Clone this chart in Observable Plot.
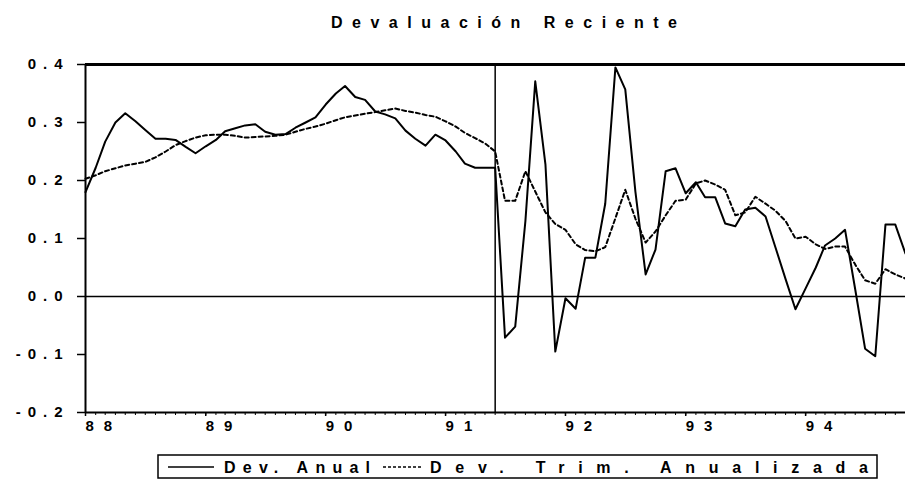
<!DOCTYPE html>
<html><head><meta charset="utf-8">
<script src="https://cdn.jsdelivr.net/npm/d3@7"></script>
<script src="https://cdn.jsdelivr.net/npm/@observablehq/plot@0.6"></script>
<style>
body{margin:0;background:#fff;font-family:"Liberation Sans",Arial,sans-serif;}
svg{display:block;}
g[aria-label="y-axis tick label"]{font-size:15px;font-weight:bold;}
g[aria-label="y-axis tick label"] text{letter-spacing:7px;}
g[aria-label="x-axis tick label"]{font-size:15px;font-weight:bold;}
g[aria-label="x-axis tick label"] text{letter-spacing:10px;}
</style>
</head><body>
<svg id="title" width="905" height="40"></svg>
<div id="chart"></div>
<svg id="legend" width="905" height="44"></svg>
<script>
// ---- data (monthly, Jan 1988 .. Nov 1994) ----
const startYear = 1988, startMonth = 0;
const devAnual = [
 0.180,0.222,0.267,0.300,0.316,0.302,0.287,0.272,0.272,0.270,0.258,0.247,
 0.259,0.270,0.285,0.290,0.295,0.297,0.284,0.279,0.280,0.291,0.300,0.309,
 0.331,0.350,0.363,0.344,0.339,0.319,0.314,0.307,0.286,0.272,0.260,0.279,
 0.269,0.250,0.229,0.222,0.222,0.222,-0.071,-0.052,0.130,0.371,0.228,-0.095,
 -0.003,-0.021,0.067,0.067,0.160,0.395,0.357,0.180,0.038,0.081,0.216,0.221,
 0.178,0.197,0.171,0.171,0.126,0.121,0.150,0.153,0.138,0.085,0.030,-0.022,
 0.014,0.050,0.088,0.100,0.115,0.012,-0.090,-0.103,0.124,0.124,0.074
];
const devTrim = [
 0.203,0.209,0.216,0.221,0.226,0.229,0.232,0.240,0.250,0.261,0.268,0.274,
 0.278,0.279,0.279,0.277,0.274,0.275,0.276,0.277,0.279,0.284,0.289,0.293,
 0.298,0.304,0.309,0.312,0.315,0.318,0.321,0.324,0.320,0.317,0.313,0.310,
 0.302,0.293,0.282,0.273,0.264,0.250,0.165,0.165,0.216,0.181,0.145,0.125,
 0.115,0.090,0.080,0.078,0.085,0.135,0.184,0.134,0.093,0.112,0.140,0.165,
 0.167,0.195,0.200,0.193,0.184,0.140,0.145,0.172,0.160,0.148,0.130,0.100,
 0.103,0.090,0.082,0.086,0.086,0.055,0.028,0.022,0.047,0.038,0.031
];
const yTicks = [-0.2,-0.1,0.0,0.1,0.2,0.3,0.4];
const yearLabels = ["88","89","90","91","92","93","94"];
const breakMonth = "1991-06";
const titleText = "Devaluación Reciente";
const seriesNames = ["Dev. Anual","Dev. Trim. Anualizada"];

// ---- build table ----
const data = devAnual.map((v,i)=>({date:new Date(Date.UTC(startYear,startMonth+i,1)), anual:v, trim:devTrim[i]}));
const x0 = data[0].date, x1 = data[data.length-1].date;
const yearDates = yearLabels.map((s,i)=>new Date(Date.UTC(startYear+i,0,1)));
const monthDates = data.map(d=>d.date);
const breakDate = new Date(breakMonth+"-01T00:00:00Z");
const font = '"Liberation Sans",Arial,sans-serif';

const chart = Plot.plot({
  width:905, height:400,
  marginLeft:85, marginRight:0, marginTop:24, marginBottom:28,
  style:{fontFamily:font, color:"#000", background:"#fff", overflow:"visible"},
  x:{type:"utc", domain:[x0,x1]},
  y:{domain:[-0.2,0.4]},
  marks:[
    Plot.axisY({ticks:yTicks, tickSize:8, tickPadding:8, tickFormat:d=>d.toFixed(1), label:null, strokeWidth:1.5}),
    Plot.axisX({ticks:monthDates, tickSize:3, tickFormat:()=>"", label:null, strokeWidth:1}),
    Plot.axisX({ticks:yearDates, tickSize:4, tickPadding:4, tickFormat:(d)=>yearLabels[yearDates.findIndex(y=>+y===+d)], textAnchor:"start", label:null, strokeWidth:1.5}),
    Plot.ruleY([0.4],{stroke:"#000", strokeWidth:3}),
    Plot.ruleY([-0.2],{stroke:"#000", strokeWidth:2}),
    Plot.ruleY([0],{stroke:"#000", strokeWidth:1.6}),
    Plot.ruleX([x0],{stroke:"#000", strokeWidth:2}),
    Plot.ruleX([breakDate],{stroke:"#000", strokeWidth:1.5}),
    Plot.lineY(data,{x:"date", y:"trim", stroke:"#000", strokeWidth:2, strokeDasharray:"4,3"}),
    Plot.lineY(data,{x:"date", y:"anual", stroke:"#000", strokeWidth:2})
  ]
});
document.getElementById("chart").appendChild(chart);

// title
const t = d3.select("#title");
t.append("text").attr("x",331).attr("y",28).style("font-size","16px").style("font-weight","bold")
 .style("font-family",font)
 .attr("textLength",346).attr("lengthAdjust","spacing").text(titleText);

// legend
const lg = d3.select("#legend");
lg.append("rect").attr("x",158).attr("y",15).attr("width",719).attr("height",23)
  .attr("fill","none").attr("stroke","#000").attr("stroke-width",1.5);
lg.append("line").attr("x1",168).attr("x2",214).attr("y1",27).attr("y2",27).attr("stroke","#000").attr("stroke-width",1.5);
lg.append("line").attr("x1",383).attr("x2",423).attr("y1",27).attr("y2",27).attr("stroke","#000").attr("stroke-width",1.5).attr("stroke-dasharray","3,2");
lg.append("text").attr("x",224).attr("y",33).style("font-size","16px").style("font-weight","bold")
  .style("font-family",font)
  .attr("textLength",146).attr("lengthAdjust","spacing").text(seriesNames[0]);
lg.append("text").attr("x",430).attr("y",33).style("font-size","16px").style("font-weight","bold")
  .style("font-family",font)
  .attr("textLength",438).attr("lengthAdjust","spacing").text(seriesNames[1]);
</script>
</body></html>
